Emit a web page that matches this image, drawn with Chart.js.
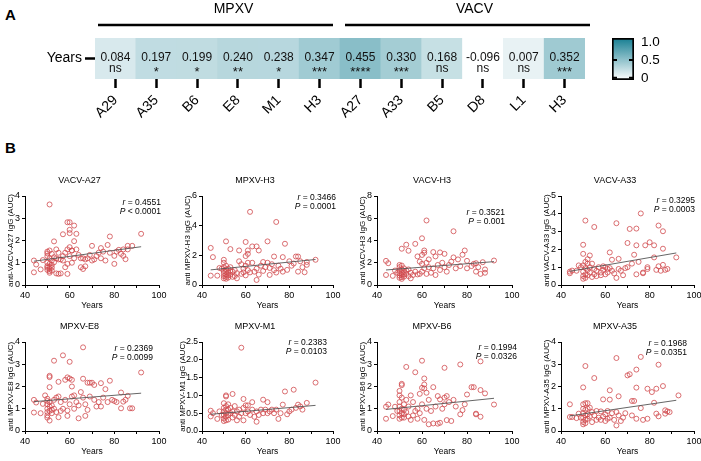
<!DOCTYPE html>
<html>
<head>
<meta charset="utf-8">
<script src="https://cdn.jsdelivr.net/npm/chart.js@4.4.0/dist/chart.umd.min.js"></script>
<style>
  html, body { margin: 0; padding: 0; background: #fff; }
  body { width: 701px; height: 461px; position: relative; overflow: hidden; font-family: "Liberation Sans", Arial, sans-serif; }
  .tag { position: absolute; font-weight: bold; font-size: 15px; line-height: 15px; color: #000; }
</style>
</head>
<body>
<div class="tag" style="left:5px;top:7px">A</div>
<div class="tag" style="left:5px;top:140px">B</div>
<script>
// ---- panel A data ----
const ANTIGENS = ["A29", "A35", "B6", "E8", "M1", "H3", "A27", "A33", "B5", "D8", "L1", "H3"];
const R_VALUES = [0.084, 0.197, 0.199, 0.240, 0.238, 0.347, 0.455, 0.330, 0.168, -0.096, 0.007, 0.352];
const SIGNIF = ["ns", "*", "*", "**", "*", "***", "****", "***", "ns", "ns", "ns", "***"];
const GROUPS = [{ name: "MPXV", from: 0, to: 5 }, { name: "VACV", from: 6, to: 11 }];
const ROW_LABEL = "Years";
const CBAR_TICKS = [0, 0.5, 1.0];
const CBAR_LABELS = ["0", "0.5", "1.0"];

// ---- panel B data: [age, AUC] ----
const A27_PTS = [[44,1.1],[44,0.57],[45,0.92],[47,0.7],[48,1.12],[50,1.5],[50,1.42],[50,1.3],[50,1.0],[50,0.85],[50,0.78],[50,0.68],[51,1.55],[51,1.2],[51,0.95],[51,0.82],[51,0.72],[51,0.62],[51,0.55],[51,3.62],[52,1.1],[52,0.9],[52,0.78],[52,0.65],[52,1.4],[53,1.96],[53,1.02],[53,1.25],[54,1.6],[54,1.2],[54,0.52],[55,1.45],[55,1.15],[55,0.5],[56,0.52],[56,1.15],[57,2.28],[57,1.3],[57,1.1],[58,0.8],[58,1.45],[59,2.82],[59,1.6],[59,0.5],[59,0.95],[60,2.82],[60,2.48],[60,2.33],[60,1.7],[60,1.3],[61,1.55],[61,1.55],[61,1.0],[62,2.67],[62,1.97],[62,1.2],[63,2.3],[63,1.6],[64,1.35],[65,0.8],[65,1.2],[66,0.72],[66,1.2],[67,0.84],[67,1.15],[68,1.2],[69,1.35],[70,1.76],[70,1.1],[71,1.15],[72,1.3],[73,1.45],[74,1.66],[74,1.2],[75,1.5],[76,1.1],[77,1.8],[78,2.18],[78,1.45],[80,1.31],[80,0.95],[81,1.5],[82,1.58],[83,1.4],[84,1.31],[84,1.6],[85,1.16],[86,1.76],[86,1.6],[88,1.76],[92,2.3]];
const H3M_PTS = [[44,2.5],[45,1.88],[44,0.63],[47,0.63],[48,1.15],[49,1.1],[50,1.7],[50,1.5],[50,1.2],[50,0.95],[50,0.8],[50,0.6],[50,0.45],[51,2.94],[51,1.3],[51,1.05],[51,0.9],[51,0.7],[51,0.55],[51,0.42],[52,1.1],[52,0.85],[52,0.65],[52,0.5],[53,2.42],[53,1.2],[53,0.95],[53,0.7],[54,0.9],[54,0.55],[55,1.0],[55,0.6],[56,0.45],[56,0.8],[57,2.33],[57,1.6],[58,1.4],[58,0.75],[59,1.1],[59,0.85],[60,2.9],[60,1.95],[60,1.3],[60,0.65],[61,2.1],[61,2.33],[61,1.5],[61,1.0],[62,4.93],[62,0.85],[63,2.6],[63,1.5],[64,0.9],[65,2.6],[65,0.34],[65,1.1],[66,2.33],[66,0.7],[67,1.3],[68,1.55],[68,0.95],[69,1.2],[70,2.94],[70,1.5],[71,0.68],[71,1.15],[72,1.4],[73,1.92],[73,1.0],[74,4.25],[74,0.84],[75,1.3],[76,1.1],[77,1.88],[77,0.9],[78,2.78],[79,1.02],[80,1.6],[81,1.3],[82,1.45],[83,1.92],[84,1.92],[84,0.9],[85,1.6],[86,1.2],[87,0.86],[88,1.36],[88,1.55],[92,1.7]];
const H3V_PTS = [[44,2.17],[45,1.96],[44,0.9],[47,0.82],[48,1.3],[49,1.1],[50,1.8],[50,1.6],[50,1.3],[50,1.05],[50,0.85],[50,0.65],[51,3.26],[51,1.75],[51,1.4],[51,1.1],[51,0.9],[51,0.7],[51,0.55],[52,1.5],[52,1.2],[52,0.95],[52,0.75],[53,3.62],[53,1.3],[53,1.0],[54,3.08],[54,1.4],[54,0.8],[55,1.1],[55,0.6],[56,0.9],[57,3.7],[57,1.2],[58,2.57],[58,0.95],[59,2.1],[59,1.0],[60,4.2],[60,2.7],[60,1.9],[60,1.2],[61,3.1],[61,2.9],[61,1.5],[62,5.8],[62,2.0],[62,1.0],[63,1.6],[63,2.3],[64,1.1],[65,2.96],[65,1.5],[66,2.57],[66,0.9],[67,1.8],[68,2.93],[68,1.35],[69,2.0],[70,2.8],[70,1.6],[71,1.2],[72,1.8],[73,2.1],[74,2.48],[74,4.83],[75,1.5],[76,2.3],[77,1.7],[78,2.72],[79,3.1],[80,2.17],[80,1.5],[82,1.7],[83,1.9],[84,1.96],[84,1.2],[85,1.6],[86,1.0],[87,2.05],[88,1.4],[88,1.1],[92,2.2]];
const A33_PTS = [[44,0.75],[45,0.81],[44,0.66],[47,0.8],[48,1.1],[49,1.0],[50,2.26],[50,1.75],[50,1.1],[50,0.75],[50,0.5],[50,0.35],[51,3.62],[51,1.3],[51,0.95],[51,0.6],[51,0.4],[52,1.45],[52,1.2],[52,0.85],[52,0.55],[53,1.66],[53,1.0],[53,0.7],[54,1.2],[54,0.45],[55,3.26],[55,0.9],[55,0.6],[56,0.8],[56,0.5],[57,1.0],[58,0.7],[58,0.55],[59,1.05],[59,0.85],[60,1.0],[60,0.6],[61,0.9],[61,0.7],[62,1.83],[62,0.95],[63,1.42],[63,0.8],[64,0.65],[65,3.47],[65,0.4],[66,1.47],[66,0.9],[67,0.8],[68,0.55],[69,0.95],[70,2.36],[70,1.0],[71,3.15],[72,1.2],[73,1.7],[74,3.17],[74,2.23],[74,0.6],[75,1.3],[76,4.02],[77,0.66],[77,0.7],[78,2.23],[79,1.0],[79,0.9],[80,2.4],[82,2.23],[82,1.55],[83,0.85],[84,3.34],[84,1.05],[85,0.8],[86,3.02],[86,2.04],[86,1.13],[87,0.85],[88,0.9],[92,1.55]];
const E8_PTS = [[44,1.4],[44,0.83],[45,1.28],[47,0.8],[48,1.22],[49,1.6],[50,1.45],[50,1.35],[50,1.2],[50,1.0],[50,0.85],[50,0.7],[50,0.6],[51,2.48],[51,2.42],[51,1.97],[51,1.3],[51,1.1],[51,0.9],[51,0.47],[52,1.15],[52,0.95],[52,0.8],[53,3.16],[53,1.4],[53,1.0],[54,1.5],[54,0.85],[55,2.21],[55,1.55],[55,0.62],[56,1.3],[56,0.9],[57,3.4],[57,1.0],[58,2.3],[58,1.4],[59,2.41],[59,0.92],[59,0.68],[60,3.11],[60,2.36],[60,1.2],[61,2.3],[61,1.55],[61,2.0],[62,1.6],[62,1.0],[63,1.3],[64,0.57],[64,1.15],[65,1.75],[66,3.76],[66,2.35],[66,1.5],[67,0.68],[67,1.2],[68,2.17],[68,0.95],[69,2.17],[69,1.55],[70,2.17],[71,2.07],[71,1.4],[72,1.1],[73,1.3],[74,2.15],[74,1.1],[75,1.5],[76,1.88],[77,1.3],[78,2.26],[79,1.4],[80,1.35],[81,1.3],[83,1.73],[83,1.02],[84,1.32],[85,1.4],[86,1.58],[87,1.02],[88,1.02],[92,2.63]];
const M1_PTS = [[44,0.57],[44,0.41],[45,0.5],[47,0.34],[48,0.55],[49,0.45],[50,0.78],[50,0.65],[50,0.55],[50,0.45],[50,0.35],[50,0.28],[51,1.0],[51,0.97],[51,0.7],[51,0.6],[51,0.5],[51,0.4],[51,0.3],[52,0.75],[52,0.6],[52,0.45],[52,0.32],[53,0.65],[53,0.5],[54,1.04],[54,0.55],[54,0.38],[55,0.7],[55,0.45],[56,0.3],[56,0.55],[57,0.6],[57,0.4],[58,2.34],[58,0.5],[59,0.9],[59,0.65],[59,0.3],[60,0.72],[60,0.5],[61,0.72],[61,0.55],[62,0.45],[63,0.81],[63,0.6],[64,0.4],[65,0.26],[65,0.55],[66,0.45],[67,0.6],[68,0.88],[68,0.5],[69,0.6],[70,0.81],[70,0.5],[71,0.55],[72,0.6],[73,0.5],[74,0.6],[75,0.34],[76,0.5],[77,0.74],[78,1.11],[79,0.47],[80,0.55],[81,0.6],[82,1.16],[83,0.65],[84,0.74],[85,0.69],[86,0.6],[88,0.79],[92,1.36]];
const B6_PTS = [[44,1.09],[44,0.55],[45,1.19],[47,0.67],[48,1.09],[49,0.9],[50,1.8],[50,1.6],[50,1.3],[50,1.1],[50,0.9],[50,0.7],[50,0.55],[51,2.12],[51,2.06],[51,1.5],[51,1.0],[51,0.8],[51,0.6],[52,1.2],[52,0.95],[52,0.75],[52,0.6],[53,2.88],[53,1.4],[53,0.85],[54,1.1],[54,0.65],[55,1.6],[55,0.5],[56,1.3],[56,0.7],[57,2.64],[57,0.9],[58,1.0],[58,0.55],[59,1.67],[59,0.8],[60,3.16],[60,1.94],[60,1.2],[61,2.36],[61,2.09],[61,1.91],[61,0.5],[62,1.72],[62,1.0],[63,0.3],[63,1.4],[64,0.9],[65,1.97],[65,0.34],[66,1.1],[67,1.57],[67,0.33],[68,1.42],[68,0.37],[69,1.0],[70,2.84],[70,1.5],[70,1.2],[71,1.57],[71,0.49],[72,1.3],[73,0.45],[74,1.4],[75,1.1],[77,2.99],[77,0.75],[78,0.94],[79,1.2],[80,1.64],[82,1.97],[83,1.97],[84,0.78],[84,0.75],[86,3.13],[86,1.84],[86,0.64],[88,1.69],[92,1.19]];
const A35_PTS = [[44,1.2],[44,0.63],[45,0.63],[47,0.58],[48,0.78],[49,0.6],[50,1.96],[50,1.2],[50,1.0],[50,0.8],[50,0.6],[50,0.4],[50,0.3],[51,2.92],[51,1.25],[51,0.95],[51,0.7],[51,0.5],[51,0.35],[52,1.25],[52,1.0],[52,0.75],[52,0.55],[53,1.05],[53,0.65],[54,0.85],[54,0.4],[55,2.38],[55,0.7],[56,0.5],[56,0.9],[57,0.6],[58,0.88],[58,0.5],[59,1.42],[59,0.65],[60,0.75],[60,0.45],[61,0.9],[61,0.55],[62,1.41],[62,1.83],[62,0.6],[63,0.8],[64,0.5],[65,3.28],[65,0.25],[65,0.85],[66,1.56],[66,0.7],[67,0.45],[68,0.6],[69,0.8],[70,2.5],[71,2.55],[72,0.7],[72,1.35],[73,1.35],[74,2.76],[74,1.95],[74,0.55],[76,1.03],[76,3.33],[77,0.5],[79,1.9],[79,0.55],[81,1.75],[82,1.27],[83,1.9],[83,0.78],[84,2.98],[84,0.66],[86,2.02],[87,0.93],[87,0.78],[88,0.88],[89,0.85],[93,1.6]];

// regression line end points
const A27_FIT = [[44,1.07],[92,1.72]];
const H3M_FIT = [[44,1.02],[92,1.72]];
const H3V_FIT = [[44,1.35],[92,2.1]];
const A33_FIT = [[44,0.77],[92,1.8]];
const E8_FIT = [[44,1.32],[92,1.7]];
const M1_FIT = [[44,0.47],[92,0.72]];
const B6_FIT = [[44,0.97],[92,1.47]];
const A35_FIT = [[44,0.68],[92,1.38]];

const PLOTS = [
  { title: "VACV-A27", yLabel: "anti-VACV-A27 IgG (AUC)", yMax: 4, yStep: 1, pts: A27_PTS, fit: A27_FIT, r: "0.4551", p: "< 0.0001" },
  { title: "MPXV-H3", yLabel: "anti MPXV-H3 IgG (AUC)", yMax: 6, yStep: 2, pts: H3M_PTS, fit: H3M_FIT, r: "0.3466", p: "= 0.0001" },
  { title: "VACV-H3", yLabel: "anti VACV-H3 IgG (AUC)", yMax: 8, yStep: 2, pts: H3V_PTS, fit: H3V_FIT, r: "0.3521", p: "= 0.001" },
  { title: "VACV-A33", yLabel: "anti VACV-A33 IgG (AUC)", yMax: 5, yStep: 1, pts: A33_PTS, fit: A33_FIT, r: "0.3295", p: "= 0.0003" },
  { title: "MPXV-E8", yLabel: "anti MPXV-E8 IgG (AUC)", yMax: 4, yStep: 1, pts: E8_PTS, fit: E8_FIT, r: "0.2369", p: "= 0.0099" },
  { title: "MPXV-M1", yLabel: "anti MPXV-M1 IgG (AUC)", yMax: 2.5, yStep: 0.5, pts: M1_PTS, fit: M1_FIT, r: "0.2383", p: "= 0.0103" },
  { title: "MPXV-B6", yLabel: "anti MPXV-B6 IgG (AUC)", yMax: 4, yStep: 1, pts: B6_PTS, fit: B6_FIT, r: "0.1994", p: "= 0.0326" },
  { title: "MPXV-A35", yLabel: "anti MPXV-A35 IgG (AUC)", yMax: 4, yStep: 1, pts: A35_PTS, fit: A35_FIT, r: "0.1968", p: "= 0.0351" }
];

// ---- layout (pixels) ----
const COL_LEFT = [25, 202, 377, 561];
const COL_W = [134, 131, 135, 133];
const ROW_TOP = [196, 342];
const PLOT_H = 89;
const Y_W = 25, TOP_H = 24, X_H = 26, RIGHT_PAD = 10;
// where the r / P note sits, relative to the plot's top-right corner
const NOTE_POS = [[2, 7], [3, 2], [-7, 17], [1, 5], [-6, 7], [-6, 1], [5, 6], [-7, 2]];

const FONT = '"Liberation Sans", Arial, sans-serif';
const RED = "#d04a4e";
const TEAL = [22, 126, 146];
const C_MIN = -0.1;

Chart.defaults.font.family = FONT;
Chart.defaults.color = "#000";

function makeCanvas(left, top, w, h) {
  const c = document.createElement("canvas");
  c.width = w; c.height = h;
  c.style.cssText = `position:absolute;left:${left}px;top:${top}px;width:${w}px;height:${h}px`;
  document.body.appendChild(c);
  return c;
}

function corrColor(v) {
  const t = Math.max(0, Math.min(1, (v - C_MIN) / (1 - C_MIN)));
  const c = TEAL.map(k => Math.round(255 - t * (255 - k)));
  return `rgb(${c[0]},${c[1]},${c[2]})`;
}

// numbers + stars inside the cells
const cellText = {
  id: "cellText",
  afterDatasetsDraw(chart) {
    const { ctx, chartArea } = chart;
    ctx.save();
    ctx.fillStyle = "#111";
    ctx.textAlign = "center";
    ctx.textBaseline = "middle";
    chart.getDatasetMeta(0).data.forEach((bar, i) => {
      ctx.font = "12px " + FONT;
      ctx.fillText(R_VALUES[i].toFixed(3), bar.x, chartArea.top + 20);
      const s = SIGNIF[i];
      if (s === "ns") {
        ctx.fillText(s, bar.x, chartArea.top + 31);
      } else {
        ctx.font = "13px " + FONT;
        ctx.fillText(s, bar.x, chartArea.top + 34);
      }
    });
    ctx.restore();
  }
};

// MPXV / VACV brackets above the strip
const groupLines = {
  id: "groupLines",
  afterDraw(chart) {
    const { ctx } = chart;
    const x = chart.scales.x;
    const half = (x.getPixelForValue(1) - x.getPixelForValue(0)) / 2;
    const inset = [[3, -7], [5, 5]];
    const textShift = [18, 7];
    ctx.save();
    GROUPS.forEach((g, i) => {
      const x0 = x.getPixelForValue(g.from) - half + inset[i][0];
      const x1 = x.getPixelForValue(g.to) + half + inset[i][1];
      ctx.strokeStyle = "#000";
      ctx.lineWidth = 2.5;
      ctx.beginPath();
      ctx.moveTo(x0, 25);
      ctx.lineTo(x1, 25);
      ctx.stroke();
      ctx.fillStyle = "#000";
      ctx.font = "14px " + FONT;
      ctx.textAlign = "center";
      ctx.textBaseline = "middle";
      ctx.fillText(g.name, (x0 + x1) / 2 + textShift[i], 9);
    });
    ctx.restore();
  }
};

new Chart(makeCanvas(0, 0, 600, 125), {
  type: "bar",
  data: {
    labels: ANTIGENS,
    datasets: [{
      data: R_VALUES.map(() => [0, 1]),
      backgroundColor: R_VALUES.map(corrColor),
      borderWidth: 0,
      barPercentage: 1,
      categoryPercentage: 1
    }]
  },
  options: {
    responsive: false,
    animation: false,
    layout: { padding: { top: 38, right: 15, left: 0, bottom: 0 } },
    plugins: { legend: { display: false }, tooltip: { enabled: false } },
    scales: {
      x: {
        grid: { offset: false, drawOnChartArea: false, tickLength: 9, tickWidth: 2.5, tickColor: "#000" },
        border: { display: false },
        ticks: { font: { size: 14 }, color: "#000", minRotation: 45, maxRotation: 45, autoSkip: false, padding: 4 },
        afterFit: s => { s.height = 46; }
      },
      y: {
        min: 0, max: 1,
        grid: { drawOnChartArea: false, tickLength: 10, tickWidth: 2.5, tickColor: "#000" },
        border: { display: false },
        afterBuildTicks: s => { s.ticks = [{ value: 0.5 }]; },
        ticks: { callback: () => ROW_LABEL, font: { size: 14 }, color: "#000", padding: 3 },
        afterFit: s => { s.width = 95; }
      }
    }
  },
  plugins: [cellText, groupLines]
});

// colour bar
const CB_MIN = -0.06, CB_MAX = 1.11;
const cbarTicks = {
  id: "cbarTicks",
  afterDatasetsDraw(chart) {
    const { ctx, chartArea } = chart;
    const y = chart.scales.y;
    ctx.save();
    ctx.strokeStyle = "#000";
    ctx.lineWidth = 2;
    [0.5, 0].forEach(v => {
      const py = y.getPixelForValue(v);
      ctx.beginPath();
      ctx.moveTo(chartArea.left, py); ctx.lineTo(chartArea.left + 5, py);
      ctx.moveTo(chartArea.right - 5, py); ctx.lineTo(chartArea.right, py);
      ctx.stroke();
    });
    ctx.restore();
  }
};

new Chart(makeCanvas(600, 18, 80, 82), {
  type: "bar",
  data: {
    labels: [""],
    datasets: [{
      data: [[CB_MIN, CB_MAX]],
      backgroundColor: (c) => {
        const area = c.chart.chartArea;
        if (!area) return corrColor(1);
        const g = c.chart.ctx.createLinearGradient(0, area.bottom, 0, area.top);
        g.addColorStop(0, "#ffffff");
        g.addColorStop(1, corrColor(1));
        return g;
      },
      borderColor: "#000",
      borderWidth: 2,
      borderSkipped: false,
      barPercentage: 1,
      categoryPercentage: 1
    }]
  },
  options: {
    responsive: false,
    animation: false,
    layout: { padding: { left: 12, top: 20, bottom: 20, right: 0 } },
    plugins: { legend: { display: false }, tooltip: { enabled: false } },
    scales: {
      x: { display: false },
      y: {
        position: "right",
        min: CB_MIN, max: CB_MAX,
        grid: { drawOnChartArea: false, drawTicks: false },
        border: { display: false },
        afterBuildTicks: s => { s.ticks = CBAR_TICKS.map(v => ({ value: v })); },
        ticks: { callback: (v, i) => CBAR_LABELS[i], font: { size: 13.5 }, color: "#000", padding: 7 },
        afterFit: s => { s.width = 46; }
      }
    }
  },
  plugins: [cbarTicks]
});

// r / P note in the corner of each scatter
function notePlugin(cfg, pos) {
  return {
    id: "note",
    afterDraw(chart) {
      const { ctx, chartArea } = chart;
      const xr = chartArea.right + pos[0];
      ctx.save();
      ctx.fillStyle = "#000";
      ctx.textBaseline = "middle";
      ctx.textAlign = "right";
      [["r", " = " + cfg.r], ["P", " " + cfg.p]].forEach(([sym, rest], i) => {
        const y = chartArea.top + pos[1] + i * 8.5;
        ctx.font = "8.5px " + FONT;
        const w = ctx.measureText(rest).width;
        ctx.fillText(rest, xr, y);
        ctx.font = "italic 8.5px " + FONT;
        ctx.fillText(sym, xr - w, y);
      });
      ctx.restore();
    }
  };
}

PLOTS.forEach((cfg, k) => {
  const col = k % 4, row = Math.floor(k / 4);
  const left = COL_LEFT[col] - Y_W;
  const top = ROW_TOP[row] - TOP_H;
  const w = Y_W + COL_W[col] + RIGHT_PAD;
  const h = TOP_H + PLOT_H + X_H;
  const decimals = cfg.yStep < 1;
  new Chart(makeCanvas(left, top, w, h), {
    type: "scatter",
    data: {
      datasets: [
        {
          type: "line",
          data: cfg.fit.map(([x, y]) => ({ x, y })),
          borderColor: "#555",
          borderWidth: 0.9,
          pointRadius: 0,
          fill: false,
          order: 0
        },
        {
          data: cfg.pts.map(([x, y]) => ({ x, y })),
          pointStyle: "circle",
          pointRadius: 2.5,
          pointBorderWidth: 0.8,
          pointBorderColor: RED,
          pointBackgroundColor: "rgba(0,0,0,0)",
          order: 1
        }
      ]
    },
    options: {
      responsive: false,
      animation: false,
      layout: { padding: { left: 0, right: RIGHT_PAD, top: 0, bottom: 0 } },
      plugins: {
        legend: { display: false },
        tooltip: { enabled: false },
        title: { display: true, text: cfg.title, font: { size: 9, weight: "normal" }, color: "#000", padding: { top: 3.6, bottom: 9.6 } }
      },
      scales: {
        x: {
          type: "linear", min: 40, max: 100,
          grid: { drawOnChartArea: false, tickLength: 3, color: "#000" },
          border: { color: "#000", width: 1 },
          ticks: { stepSize: 10, callback: v => (v % 20 === 0 ? v : ""), font: { size: 9 }, color: "#000", padding: 2, maxRotation: 0, autoSkip: false },
          title: { display: true, text: "Years", font: { size: 8.5 }, color: "#000", padding: 0 },
          afterFit: s => { s.height = X_H; }
        },
        y: {
          min: 0, max: cfg.yMax,
          grid: { drawOnChartArea: false, tickLength: 3, color: "#000" },
          border: { color: "#000", width: 1 },
          ticks: { stepSize: cfg.yStep, callback: v => (decimals ? v.toFixed(1) : v), font: { size: decimals ? 8.5 : 9 }, color: "#000", padding: decimals ? 1 : 2 },
          title: { display: true, text: cfg.yLabel, font: { size: 8 }, color: "#000", padding: { top: decimals ? 1 : 6, bottom: 0 } },
          afterFit: s => { s.width = Y_W; }
        }
      }
    },
    plugins: [notePlugin(cfg, NOTE_POS[k])]
  });
});
</script>
</body>
</html>
